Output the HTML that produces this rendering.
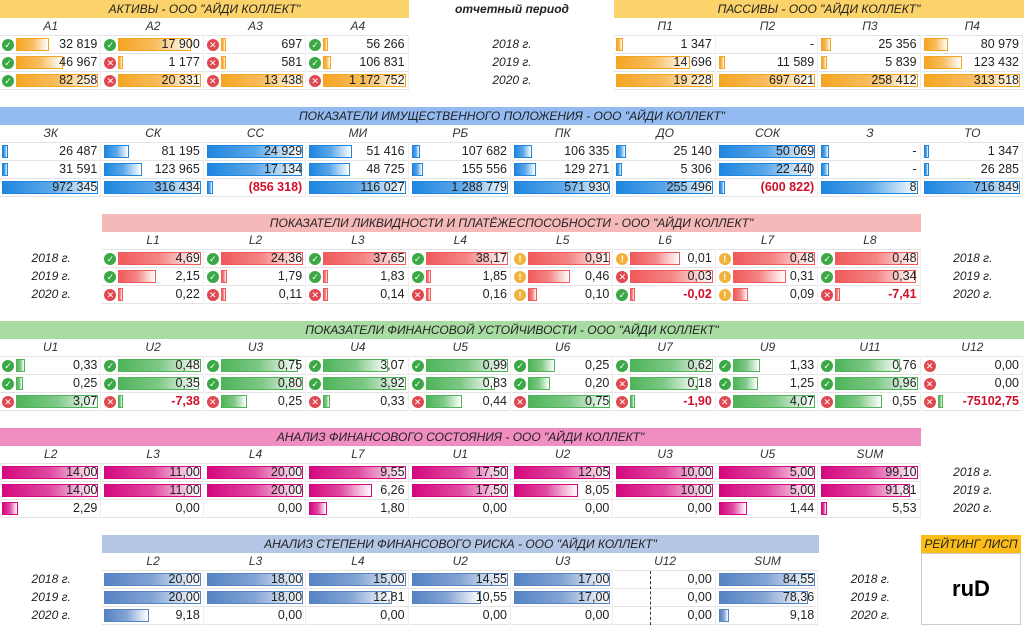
<!DOCTYPE html>
<html><head><meta charset="utf-8">
<style>
body{margin:0;width:1024px;height:625px;overflow:hidden;background:#fff;font-family:"Liberation Sans","DejaVu Sans",sans-serif;position:relative}
.a{position:absolute;box-sizing:border-box}
.hdr{font-style:italic;font-size:12px;text-align:center;line-height:18px;color:#222}
.ch{font-style:italic;font-size:12px;text-align:center;line-height:17px;color:#333;border-bottom:1px solid #e4e4e4}
.cell{border-bottom:1px solid #e4e4e4;border-right:1px solid #eee}
.val{position:absolute;right:3px;top:0;line-height:17px;font-size:12.5px;color:#222}
.neg{color:#d0102a;font-weight:bold}
.yr{font-style:italic;font-size:12px;line-height:17px;color:#222;text-align:center}
.ic{position:absolute;width:12px;height:12px;border-radius:50%;top:3px;left:2px;color:#fff;font-size:9px;line-height:12px;text-align:center;font-weight:bold}
</style></head><body>
<script>
// ===== data =====
const years=["2018 г.","2019 г.","2020 г."];
const s1Cats=["А1","А2","А3","А4"];
const s1Vals=[[32819,46967,82258],[17900,1177,20331],[697,581,13438],[56266,106831,1172752]];
const s1Icons=[["g","g","g"],["g","r","r"],["r","r","r"],["g","g","r"]];
const s1bCats=["П1","П2","П3","П4"];
const s1bVals=[[1347,14696,19228],[0,11589,697621],[25356,5839,258412],[80979,123432,313518]];
const s2Cats=["ЗК","СК","СС","МИ","РБ","ПК","ДО","СОК","З","ТО"];
const s2Vals=[[26487,31591,972345],[81195,123965,316434],[24929,17134,-856318],[51416,48725,116027],[107682,155556,1288779],[106335,129271,571930],[25140,5306,255496],[50069,22440,-600822],[0,0,8],[1347,26285,716849]];
const s3Cats=["L1","L2","L3","L4","L5","L6","L7","L8"];
const s3Vals=[[4.69,2.15,0.22],[24.36,1.79,0.11],[37.65,1.83,0.14],[38.17,1.85,0.16],[0.91,0.46,0.10],[0.01,0.03,-0.02],[0.48,0.31,0.09],[0.48,0.34,-7.41]];
const s3Icons=[["g","g","r"],["g","g","r"],["g","g","r"],["g","g","r"],["y","y","y"],["y","r","g"],["y","y","y"],["g","g","r"]];
const s4Cats=["U1","U2","U3","U4","U5","U6","U7","U9","U11","U12"];
const s4Vals=[[0.33,0.25,3.07],[0.48,0.35,-7.38],[0.75,0.80,0.25],[3.07,3.92,0.33],[0.99,0.83,0.44],[0.25,0.20,0.75],[0.62,0.18,-1.90],[1.33,1.25,4.07],[0.76,0.96,0.55],[0,0,-75102.75]];
const s4Icons=[["g","g","r"],["g","g","r"],["g","g","r"],["g","g","r"],["g","g","r"],["g","g","r"],["g","r","r"],["g","g","r"],["g","g","r"],["r","r","r"]];
const s5Cats=["L2","L3","L4","L7","U1","U2","U3","U5","SUM"];
const s5Vals=[[14,14,2.29],[11,11,0],[20,20,0],[9.55,6.26,1.80],[17.5,17.5,0],[12.05,8.05,0],[10,10,0],[5,5,1.44],[99.10,91.81,5.53]];
const s6Cats=["L2","L3","L4","U2","U3","U12","SUM"];
const s6Vals=[[20,20,9.18],[18,18,0],[15,12.81,0],[14.55,10.55,0],[17,17,0],[0,0,0],[84.55,78.36,9.18]];
// ===== helpers =====
const CW=102.4;
function el(cls,x,y,w,h,txt){const d=document.createElement('div');d.className='a '+cls;d.style.left=x+'px';d.style.top=y+'px';d.style.width=w+'px';d.style.height=h+'px';if(txt!=null)d.textContent=txt;document.body.appendChild(d);return d;}
function fmtInt(v){if(v===0)return "-";const s=Math.abs(v).toString().replace(/\B(?=(\d{3})+(?!\d))/g,' ');return v<0?"("+s+")":s;}
function fmtDec(v){return v.toFixed(2).replace('.',',');}
const iconCol={g:"#3aa845",r:"#e0484f",y:"#f0b23a"};
const iconTxt={g:"✓",r:"✕",y:"!"};
function section(opt){
  const h=el('hdr',opt.hx,opt.hy,opt.hw,18,opt.title);h.style.background=opt.hbg;
  
  opt.cats.forEach((c,i)=>{
    const x=(opt.col0+i)*CW;
    const ch=el('ch',x,opt.hy+18,CW-1,18,c);
    
    const vals=opt.vals[i];
    const lo=Math.min(0,...vals),hi=Math.max(0,...vals);
    vals.forEach((v,r)=>{
      const y=opt.hy+36+r*18;
      const cell=el('cell',x,y,CW-1,18);
      
      
      const ic=opt.icons?opt.icons[i][r]:null;
      const start=ic?16:2;
      const maxW=CW-1-start-3;
      let f=hi>lo?(v-lo)/(hi-lo):0;
      if(v===0)f=opt.zeroMin||0;
      if(v<0)f=0;
      if(f<0.06&&(v!==0||opt.zeroMin))f=0.06;
      if(f>0){
        const b=document.createElement('div');b.className='a';
        b.style.left=start+'px';b.style.top='2px';b.style.height='13px';b.style.width=(maxW*f)+'px';
        b.style.background='linear-gradient(to right,'+opt.col+' 0%,'+opt.col+'bb 50%,#ffffff 100%)';
        b.style.border='1px solid '+opt.col;
        
        
        cell.appendChild(b);
      }
      if(ic){const d=document.createElement('div');d.className='ic';d.style.background=iconCol[ic];d.textContent=iconTxt[ic];
        
        
        cell.appendChild(d);}
      const t=document.createElement('div');t.className='val'+(v<0?' neg':'');
      t.textContent=opt.fmt(v);
      
      
      cell.appendChild(t);
    });
  });
  (opt.yearCols||[]).forEach(yc=>{years.forEach((yv,r)=>{
    const d=el('yr',yc*CW,opt.hy+36+r*18,CW,18,yv);
    
  });});
}
section({name:'assets',title:'АКТИВЫ - ООО "АЙДИ КОЛЛЕКТ"',hx:0,hy:0,hw:409,hbg:'#fcd36a',cats:s1Cats,vals:s1Vals,icons:s1Icons,col0:0,col:'#f5a524',fmt:fmtInt,zeroMin:0.06});
section({name:'liabilities',title:'ПАССИВЫ - ООО "АЙДИ КОЛЛЕКТ"',hx:614,hy:0,hw:410,hbg:'#fcd36a',cats:s1bCats,vals:s1bVals,col0:6,col:'#f5a524',fmt:fmtInt});
const per=el('hdr',410,0,204,18,'отчетный период');per.style.fontWeight='bold';

years.forEach((yv,r)=>{const d=el('yr',410,36+r*18,204,18,yv);
  });
section({name:'property',title:'ПОКАЗАТЕЛИ ИМУЩЕСТВЕННОГО ПОЛОЖЕНИЯ - ООО "АЙДИ КОЛЛЕКТ"',hx:0,hy:107,hw:1024,hbg:'#93bbf2',cats:s2Cats,vals:s2Vals,col0:0,col:'#1f86e0',fmt:fmtInt,zeroMin:0.08});
section({name:'liquidity',title:'ПОКАЗАТЕЛИ ЛИКВИДНОСТИ И ПЛАТЁЖЕСПОСОБНОСТИ - ООО "АЙДИ КОЛЛЕКТ"',hx:102,hy:214,hw:819,hbg:'#f6b9b9',cats:s3Cats,vals:s3Vals,icons:s3Icons,col0:1,col:'#f05a5a',fmt:fmtDec,yearCols:[0,9]});
section({name:'stability',title:'ПОКАЗАТЕЛИ ФИНАНСОВОЙ УСТОЙЧИВОСТИ - ООО "АЙДИ КОЛЛЕКТ"',hx:0,hy:321,hw:1024,hbg:'#a9dca3',cats:s4Cats,vals:s4Vals,icons:s4Icons,col0:0,col:'#4fb45a',fmt:fmtDec});
section({name:'fin-state',title:'АНАЛИЗ ФИНАНСОВОГО СОСТОЯНИЯ - ООО "АЙДИ КОЛЛЕКТ"',hx:0,hy:428,hw:921,hbg:'#f08ec2',cats:s5Cats,vals:s5Vals,col0:0,col:'#d4087f',fmt:fmtDec,yearCols:[9]});
section({name:'fin-risk',title:'АНАЛИЗ СТЕПЕНИ ФИНАНСОВОГО РИСКА - ООО "АЙДИ КОЛЛЕКТ"',hx:102,hy:535,hw:717,hbg:'#b3c6e6',cats:s6Cats,vals:s6Vals,col0:1,col:'#5683c4',fmt:fmtDec,yearCols:[0,8]});
const dl=el('',650,571,0,54);dl.style.borderLeft='1px dashed #333';

const rh=el('hdr',921,535,100,18,'РЕЙТИНГ ЛИСП');rh.style.background='#fbbd16';

const rb=el('',921,553,100,72,'ruD');rb.style.border='1px solid #ccc';rb.style.font='bold 22px "Liberation Sans",sans-serif';rb.style.textAlign='center';rb.style.lineHeight='70px';

</script>
</body></html>
